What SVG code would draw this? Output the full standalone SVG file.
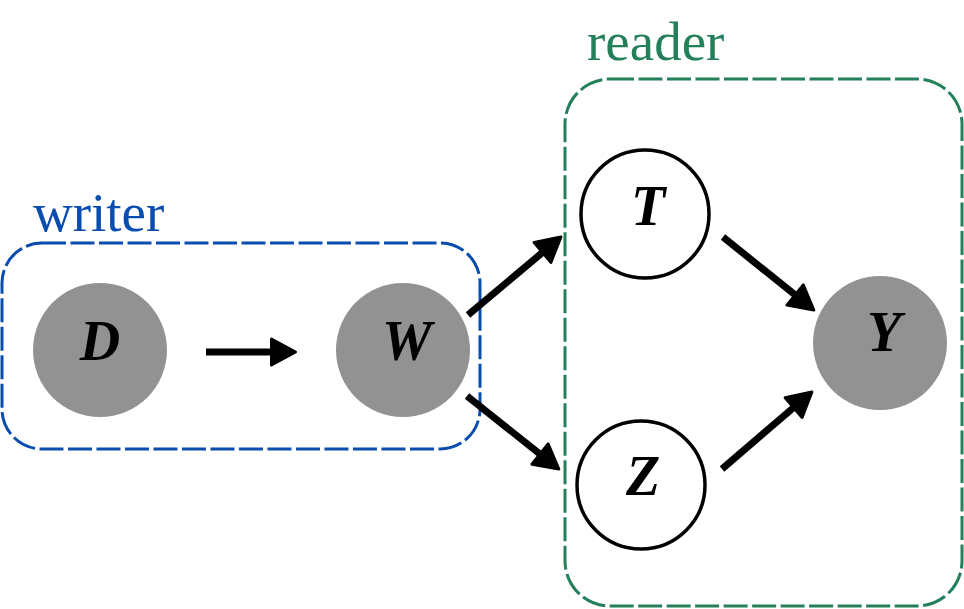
<svg xmlns="http://www.w3.org/2000/svg" width="964" height="609" viewBox="0 0 964 609">
<style>
.box{fill:none;stroke-width:3;stroke-dasharray:24 4.5}
.lbl{font-family:"Liberation Serif",serif;font-size:55px}
.nl{font-family:"Liberation Serif",serif;font-size:56px;font-weight:bold;font-style:italic;text-anchor:middle;fill:#000}
.obs{fill:#929292}
.lat{fill:#fff;stroke:#000;stroke-width:3.5}
.edge{stroke:#000;stroke-width:7;fill:none;marker-end:url(#ah)}
</style>
<defs>
<marker id="ah" markerUnits="userSpaceOnUse" markerWidth="32" markerHeight="32" viewBox="0 0 32 32" refX="4" refY="16" orient="auto">
<path d="M3,3 L27,16 L3,29 Z" fill="#000" stroke="#000" stroke-width="3" stroke-linejoin="round"/>
</marker>
</defs>
<g id="writer">
<rect class="box" x="2" y="243" width="478" height="206" rx="40" stroke="#0a4daf"/>
<text class="lbl" x="33" y="231" fill="#0a4daf">writer</text>
</g>
<g id="reader">
<rect class="box" x="565" y="79" width="397" height="527" rx="45" stroke="#24805a"/>
<text class="lbl" x="587" y="60" fill="#24805a">reader</text>
</g>
<g id="node-D">
<circle class="obs" cx="100" cy="350" r="67"/>
<text class="nl" x="100" y="360">D</text>
</g>
<g id="node-W">
<circle class="obs" cx="403" cy="350" r="67"/>
<text class="nl" x="407" y="360">W</text>
</g>
<g id="node-T">
<circle class="lat" cx="645" cy="214" r="64"/>
<text class="nl" x="648" y="225">T</text>
</g>
<g id="node-Z">
<circle class="lat" cx="641" cy="485" r="64"/>
<text class="nl" x="643" y="495">Z</text>
</g>
<g id="node-Y">
<circle class="obs" cx="880" cy="343" r="67"/>
<text class="nl" x="884" y="351">Y</text>
</g>
<g id="connectors">
<line class="edge" x1="206" y1="352" x2="272.5" y2="352"/>
<line class="edge" x1="468" y1="315" x2="543.3" y2="251.8"/>
<line class="edge" x1="467" y1="396" x2="540.8" y2="454.7"/>
<line class="edge" x1="723" y1="237" x2="795.9" y2="295.6"/>
<line class="edge" x1="722" y1="469" x2="794.4" y2="406.9"/>
</g>
</svg>
